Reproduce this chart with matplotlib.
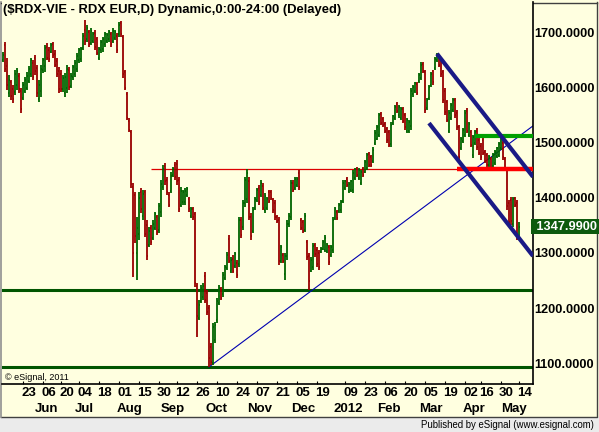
import matplotlib
matplotlib.use('Agg')

import numpy as np
import pandas as pd
import matplotlib.pyplot as plt
import matplotlib.transforms as mtransforms
from matplotlib.patches import Rectangle

plt.rcParams['font.family'] = ['Liberation Sans', 'DejaVu Sans']

TITLE = "($RDX-VIE - RDX EUR,D) Dynamic,0:00-24:00 (Delayed)"

# trading days (Wiener Boerse closed days removed)
holidays = ['2011-06-13', '2011-06-23', '2011-08-29', '2011-12-26',
            '2012-04-06', '2012-04-09', '2012-05-01']
dates = pd.bdate_range('2011-05-09', '2012-05-14')
dates = dates[~dates.isin(pd.to_datetime(holidays))]

opens = [1650, 1678, 1640, 1590, 1610, 1598, 1592, 1605, 1622, 1595,
         1582, 1595, 1600, 1612, 1625, 1645, 1655, 1636, 1580, 1595,
         1632, 1640, 1675, 1668, 1666, 1680, 1662, 1648, 1630, 1625,
         1598, 1590, 1600, 1632, 1604, 1620, 1625, 1635, 1650, 1652,
         1672, 1705, 1688, 1702, 1682, 1686, 1700, 1688, 1655, 1668,
         1670, 1680, 1685, 1688, 1698, 1685, 1690, 1695, 1698, 1718,
         1692, 1628, 1588, 1540, 1520, 1420, 1405, 1300, 1335, 1410,
         1368, 1410, 1350, 1315, 1345, 1328, 1346, 1365, 1342, 1375,
         1420, 1458, 1432, 1405, 1412, 1442, 1460, 1462, 1432, 1388,
         1392, 1392, 1406, 1398, 1368, 1380, 1370, 1240, 1182, 1212,
         1220, 1258, 1228, 1200, 1130, 1100, 1142, 1178, 1210, 1234,
         1225, 1255, 1272, 1325, 1268, 1290, 1276, 1282, 1280, 1360,
         1348, 1390, 1398, 1430, 1366, 1340, 1382, 1396, 1418, 1405,
         1422, 1378, 1382, 1410, 1410, 1396, 1390, 1366, 1360, 1286,
         1296, 1262, 1295, 1352, 1365, 1428, 1418, 1424, 1445, 1360,
         1356, 1342, 1320, 1295, 1268, 1275, 1314, 1305, 1300, 1302,
         1308, 1306, 1303, 1310, 1296, 1305, 1364, 1375, 1376, 1378,
         1395, 1418, 1434, 1412, 1414, 1415, 1436, 1453, 1437, 1428,
         1452, 1448, 1455, 1480, 1474, 1467, 1500, 1508, 1515, 1552,
         1544, 1535, 1525, 1520, 1498, 1536, 1546, 1571, 1550, 1546,
         1562, 1550, 1521, 1522, 1530, 1588, 1594, 1607, 1612, 1618,
         1644, 1628, 1563, 1582, 1605, 1630, 1636, 1650, 1657, 1650,
         1628, 1595, 1574, 1522, 1546, 1560, 1578, 1555, 1528, 1490,
         1504, 1515, 1558, 1514, 1520, 1478, 1500, 1522, 1506, 1495,
         1506, 1483, 1478, 1459, 1471, 1458, 1463, 1476, 1478, 1490,
         1500, 1470, 1450, 1390, 1396, 1352, 1400, 1390, 1330]

highs = [1666, 1684, 1655, 1624, 1615, 1605, 1633, 1636, 1627, 1600,
         1611, 1620, 1629, 1640, 1655, 1651, 1660, 1642, 1615, 1642,
         1655, 1678, 1682, 1675, 1682, 1684, 1669, 1655, 1638, 1633,
         1624, 1627, 1642, 1638, 1627, 1642, 1651, 1664, 1673, 1675,
         1700, 1724, 1715, 1706, 1709, 1702, 1706, 1693, 1675, 1687,
         1693, 1702, 1700, 1706, 1702, 1709, 1706, 1700, 1720, 1722,
         1696, 1633, 1593, 1545, 1524, 1427, 1411, 1366, 1411, 1418,
         1415, 1415, 1360, 1347, 1351, 1360, 1375, 1369, 1391, 1433,
         1460, 1464, 1438, 1411, 1447, 1456, 1465, 1469, 1438, 1420,
         1415, 1418, 1420, 1402, 1384, 1384, 1375, 1246, 1215, 1242,
         1246, 1266, 1233, 1206, 1136, 1173, 1175, 1218, 1242, 1238,
         1266, 1278, 1302, 1333, 1293, 1296, 1302, 1287, 1366, 1366,
         1396, 1438, 1453, 1438, 1373, 1384, 1402, 1418, 1424, 1433,
         1427, 1409, 1402, 1415, 1415, 1400, 1396, 1369, 1366, 1315,
         1300, 1300, 1360, 1373, 1433, 1433, 1438, 1438, 1451, 1364,
         1360, 1373, 1324, 1300, 1293, 1318, 1318, 1311, 1305, 1311,
         1324, 1333, 1318, 1315, 1315, 1366, 1384, 1378, 1391, 1396,
         1433, 1433, 1438, 1429, 1433, 1451, 1455, 1456, 1455, 1451,
         1456, 1469, 1482, 1484, 1478, 1493, 1524, 1533, 1555, 1556,
         1547, 1538, 1529, 1524, 1538, 1551, 1569, 1575, 1569, 1566,
         1566, 1555, 1546, 1542, 1600, 1606, 1611, 1611, 1627, 1647,
         1647, 1633, 1582, 1606, 1629, 1633, 1656, 1664, 1660, 1655,
         1633, 1600, 1578, 1560, 1573, 1582, 1582, 1560, 1533, 1511,
         1527, 1560, 1564, 1538, 1524, 1515, 1524, 1527, 1511, 1500,
         1511, 1487, 1482, 1478, 1475, 1482, 1487, 1493, 1502, 1511,
         1506, 1475, 1455, 1396, 1402, 1402, 1402, 1396, 1356]

lows = [1647, 1629, 1596, 1584, 1578, 1573, 1587, 1596, 1591, 1555,
        1578, 1591, 1596, 1609, 1620, 1615, 1624, 1584, 1575, 1584,
        1627, 1629, 1651, 1647, 1664, 1655, 1638, 1620, 1591, 1593,
        1593, 1584, 1591, 1596, 1600, 1615, 1620, 1629, 1645, 1647,
        1669, 1678, 1684, 1675, 1678, 1682, 1669, 1660, 1651, 1664,
        1666, 1675, 1682, 1684, 1675, 1682, 1687, 1664, 1693, 1693,
        1618, 1596, 1542, 1520, 1418, 1256, 1318, 1251, 1324, 1373,
        1360, 1329, 1287, 1311, 1315, 1324, 1342, 1333, 1336, 1365,
        1415, 1424, 1405, 1384, 1409, 1438, 1433, 1424, 1375, 1384,
        1387, 1387, 1402, 1375, 1364, 1360, 1238, 1147, 1178, 1209,
        1215, 1209, 1187, 1093, 1096, 1096, 1136, 1173, 1206, 1215,
        1220, 1251, 1269, 1282, 1264, 1264, 1273, 1255, 1275, 1327,
        1342, 1384, 1391, 1360, 1324, 1336, 1378, 1393, 1387, 1402,
        1378, 1373, 1378, 1391, 1396, 1373, 1360, 1355, 1278, 1282,
        1282, 1251, 1287, 1347, 1360, 1411, 1415, 1420, 1415, 1342,
        1336, 1338, 1287, 1233, 1265, 1269, 1293, 1275, 1269, 1300,
        1305, 1302, 1300, 1278, 1293, 1300, 1360, 1360, 1373, 1373,
        1391, 1415, 1420, 1409, 1411, 1409, 1433, 1438, 1433, 1424,
        1438, 1446, 1451, 1456, 1456, 1464, 1496, 1505, 1511, 1533,
        1529, 1518, 1500, 1493, 1493, 1533, 1542, 1555, 1546, 1542,
        1536, 1524, 1518, 1518, 1524, 1584, 1591, 1587, 1609, 1615,
        1627, 1555, 1560, 1578, 1602, 1606, 1633, 1647, 1638, 1620,
        1573, 1551, 1538, 1518, 1542, 1556, 1546, 1524, 1469, 1487,
        1500, 1511, 1518, 1511, 1493, 1473, 1496, 1487, 1478, 1469,
        1478, 1464, 1456, 1456, 1451, 1455, 1460, 1473, 1475, 1487,
        1469, 1451, 1378, 1351, 1351, 1347, 1384, 1324, 1324]

closes = [1660, 1635, 1605, 1615, 1585, 1580, 1625, 1630, 1598, 1562,
          1605, 1615, 1622, 1635, 1650, 1620, 1630, 1590, 1605, 1635,
          1650, 1672, 1655, 1652, 1678, 1660, 1642, 1625, 1598, 1598,
          1618, 1620, 1635, 1602, 1622, 1638, 1646, 1658, 1668, 1670,
          1695, 1685, 1708, 1680, 1704, 1698, 1674, 1664, 1670, 1683,
          1688, 1698, 1696, 1702, 1680, 1704, 1702, 1668, 1715, 1698,
          1625, 1600, 1546, 1524, 1425, 1300, 1330, 1345, 1400, 1380,
          1408, 1335, 1295, 1340, 1320, 1352, 1370, 1338, 1385, 1425,
          1452, 1430, 1410, 1388, 1440, 1452, 1438, 1430, 1380, 1412,
          1410, 1412, 1417, 1380, 1380, 1365, 1245, 1185, 1205, 1236,
          1240, 1215, 1192, 1110, 1102, 1165, 1170, 1212, 1236, 1218,
          1260, 1274, 1296, 1286, 1288, 1268, 1298, 1260, 1360, 1332,
          1390, 1432, 1445, 1366, 1330, 1378, 1398, 1414, 1392, 1428,
          1382, 1404, 1398, 1395, 1400, 1378, 1365, 1358, 1285, 1310,
          1286, 1295, 1352, 1368, 1428, 1415, 1434, 1435, 1420, 1345,
          1340, 1368, 1292, 1250, 1288, 1312, 1298, 1280, 1274, 1308,
          1320, 1328, 1314, 1284, 1310, 1360, 1380, 1364, 1388, 1392,
          1428, 1430, 1424, 1426, 1430, 1446, 1452, 1442, 1450, 1448,
          1441, 1465, 1478, 1460, 1460, 1488, 1518, 1528, 1550, 1537,
          1532, 1522, 1505, 1497, 1532, 1548, 1565, 1558, 1565, 1562,
          1540, 1528, 1542, 1538, 1594, 1602, 1608, 1590, 1624, 1642,
          1630, 1560, 1578, 1602, 1625, 1610, 1652, 1660, 1642, 1625,
          1578, 1556, 1542, 1555, 1568, 1578, 1550, 1528, 1474, 1508,
          1523, 1554, 1522, 1534, 1497, 1510, 1520, 1492, 1482, 1474,
          1482, 1467, 1460, 1474, 1455, 1478, 1483, 1490, 1498, 1507,
          1474, 1455, 1385, 1356, 1358, 1398, 1388, 1330, 1347.99]

# x axis labels
tick_dates = ['2011-05-23', '2011-06-06', '2011-06-20', '2011-07-04', '2011-07-18',
              '2011-08-01', '2011-08-15', '2011-08-30', '2011-09-12', '2011-09-26',
              '2011-10-10', '2011-10-24', '2011-11-07', '2011-11-21', '2011-12-05',
              '2011-12-19', '2012-01-09', '2012-01-23', '2012-02-06', '2012-02-20',
              '2012-03-05', '2012-03-19', '2012-04-02', '2012-04-16', '2012-04-30',
              '2012-05-14']
month_dates = ['2011-06-01', '2011-07-01', '2011-08-01', '2011-09-01', '2011-10-03',
               '2011-11-01', '2011-12-01', '2012-01-02', '2012-02-01', '2012-03-01',
               '2012-04-02', '2012-05-02']
month_names = ['Jun', 'Jul', 'Aug', 'Sep', 'Oct', 'Nov', 'Dec', '2012',
               'Feb', 'Mar', 'Apr', 'May']
price_ticks = [1100, 1200, 1300, 1400, 1500, 1600, 1700]

# drawn studies: horizontal levels and trend lines (date, price anchors)
support_levels = [1233, 1093]
resistance_level = 1453
resistance_from = '2011-08-23'
red_level_from = '2012-03-27'
green_level = 1513
green_level_from = '2012-04-11'
trend_up = [('2011-10-04', 1093), ('2012-05-14', 1512)]
channel_top = [('2012-03-13', 1662), ('2012-05-14', 1471)]
channel_bottom = [('2012-03-07', 1536), ('2012-05-14', 1327)]

BG = '#ffffe0'
UP = '#006400'
DOWN = '#990000'
NAVY = '#1a1a86'

W, H = 599, 432
fig = plt.figure(figsize=(W / 100, H / 100), dpi=100)
fig.patch.set_facecolor(BG)

# frame and footer strip, in pixel coordinates
bg = fig.add_axes([0, 0, 1, 1], zorder=0)
bg.set_xlim(0, W)
bg.set_ylim(H, 0)
bg.axis('off')
bg.add_patch(Rectangle((0, 417), W, 15, facecolor='#ebebeb', edgecolor='none'))
bg.plot([1, 597, 597], [416.5, 416.5, 2], color='#404040', lw=1)
bg.plot([1, 1], [2, 417], color='#909090', lw=1.2)
bg.plot([1, 597], [2.5, 2.5], color='#404040', lw=1)
bg.text(594, 425, 'Published by eSignal (www.esignal.com)', fontsize=6.9,
        ha='right', va='center', color='black')

ax = fig.add_axes([2 / W, 48 / H, 531 / W, 382 / H], zorder=1)
ax.set_facecolor(BG)
ax.set_xlim(-0.5, 265)
ax.set_ylim(1062, 1756)

x = np.arange(len(dates))
o = np.array(opens, dtype=float)
h = np.array(highs, dtype=float)
l = np.array(lows, dtype=float)
c = np.array(closes, dtype=float)
cols = np.where(c >= o, UP, DOWN)

ax.vlines(x, l, h, colors=cols, lw=1.3, zorder=3)
ax.hlines(o, x - 0.6, x, colors=cols, lw=1.2, zorder=3)
ax.hlines(c, x, x + 0.6, colors=cols, lw=1.2, zorder=3)


def pos(d):
    return dates.get_loc(pd.Timestamp(d))


xmax = ax.get_xlim()[1]

for lvl in support_levels:
    ax.axhline(lvl, color='#005500', lw=2.2, zorder=2)
ax.hlines(resistance_level, pos(resistance_from), xmax, color='#dd0000', lw=0.9, zorder=2)
ax.hlines(resistance_level, pos(red_level_from), xmax, color='#ff0000', lw=3.2, zorder=4)
ax.hlines(green_level, pos(green_level_from), xmax, color='#00a000', lw=3.0, zorder=4)


def extend(anchors):
    (d0, p0), (d1, p1) = anchors
    x0, x1 = pos(d0), pos(d1)
    slope = (p1 - p0) / (x1 - x0)
    return [x0, xmax], [p0, p0 + slope * (xmax - x0)]


xs, ys = extend(trend_up)
ax.plot(xs, ys, color='#0000b0', lw=0.8, zorder=2)
for ch in (channel_top, channel_bottom):
    xs, ys = extend(ch)
    ax.plot(xs, ys, color=NAVY, lw=3.0, zorder=5, solid_capstyle='butt')

# axes styling
for side in ('left', 'top'):
    ax.spines[side].set_visible(False)
ax.spines['right'].set_color('black')
ax.spines['bottom'].set_color('black')
ax.spines['right'].set_linewidth(1.2)
ax.spines['bottom'].set_linewidth(1.2)

ax.yaxis.tick_right()
ax.set_yticks(price_ticks)
ax.set_yticklabels(['%.4f' % p for p in price_ticks], fontsize=9.2, fontweight='bold')
ax.tick_params(axis='y', length=0, pad=1.0)

tick_pos = [pos(d) for d in tick_dates]
ax.set_xticks(tick_pos)
ax.set_xticklabels([])
ax.tick_params(axis='x', direction='in', length=2.5, width=0.8, color='black')

shift = mtransforms.ScaledTranslation(-2 / 100, 0, fig.dpi_scale_trans)
tr = mtransforms.blended_transform_factory(ax.transData, ax.transAxes) + shift
for d, p in zip(tick_dates, tick_pos):
    ax.text(p, -9 / 382, d[-2:], transform=tr, ha='left', va='center',
            fontsize=9.5, fontweight='bold', clip_on=False)
for d, name in zip(month_dates, month_names):
    ax.text(pos(d), -25 / 382, name, transform=tr, ha='left', va='center',
            fontsize=9.5, fontweight='bold', clip_on=False)

# last price marker
ax.text(1.0, closes[-1], ' %.4f' % closes[-1], transform=mtransforms.blended_transform_factory(ax.transAxes, ax.transData),
        ha='left', va='center', fontsize=9.2, fontweight='bold', color='white',
        bbox=dict(boxstyle='square,pad=0.15', facecolor='#0d5a0d', edgecolor='none'),
        clip_on=False, zorder=6)

ax.text(3 / 531, 7 / 382, '\u00a9 eSignal, 2011', transform=ax.transAxes,
        fontsize=6.5, ha='left', va='center')
fig.text(3 / W, 1 - 10 / H, TITLE, fontsize=9.4, fontweight='bold', ha='left', va='center')

fig.savefig('out.png', dpi=100, facecolor=fig.get_facecolor())
